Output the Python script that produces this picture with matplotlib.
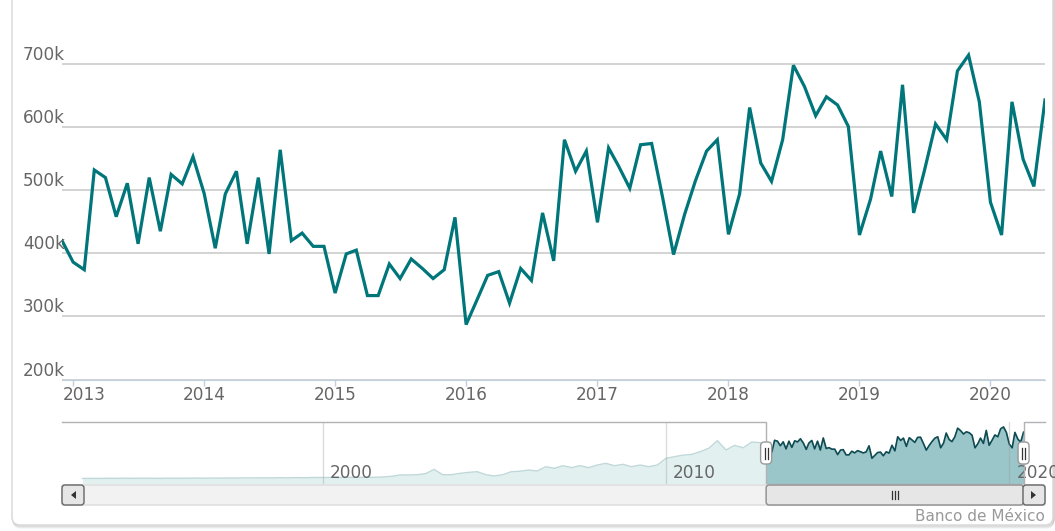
import numpy as np
import pandas as pd
import matplotlib
matplotlib.use("Agg")
import matplotlib.pyplot as plt
import matplotlib.dates as mdates
from matplotlib.patches import FancyBboxPatch
from matplotlib.transforms import IdentityTransform

# valores mensuales (miles), dic 2012 - jun 2020
months = pd.date_range("2012-12-01", "2020-06-01", freq="MS")
values = [
    420,
    386, 374, 532, 520, 458, 511, 415, 520, 435, 525, 510, 553,  # 2013
    495, 408, 494, 530, 415, 520, 399, 564, 420, 432, 411, 411,  # 2014
    337, 399, 405, 333, 333, 383, 360, 391, 376, 360, 374, 457,  # 2015
    287, 327, 365, 371, 321, 376, 357, 464, 388, 580, 530, 562,  # 2016
    449, 567, 538, 503, 572, 574, 490, 398, 462, 515, 562, 580,  # 2017
    430, 494, 631, 543, 514, 580, 698, 664, 618, 648, 635, 601,  # 2018
    429, 486, 562, 490, 667, 464, 531, 605, 580, 689, 714, 640,  # 2019
    481, 429, 640, 549, 506, 643,                                # 2020
]

# historia trimestral para el navegador (miles), 1993 - 2012
hist_dates = pd.date_range("1993-01-01", "2012-10-01", freq="QS")
hist_values = [
    12, 13, 12, 14,
    13, 15, 13, 15,
    14, 13, 15, 14,
    15, 17, 15, 17,
    16, 18, 17, 19,
    18, 20, 19, 22,
    20, 23, 21, 25,
    24, 26, 25, 27,
    26, 28, 27, 32,
    40, 59, 60, 63,
    77, 136, 62, 63,
    81, 95, 104, 63,
    45, 63, 104, 110,
    127, 113, 172, 150,
    186, 159, 186, 159,
    195, 218, 186, 204,
    172, 195, 172, 195,
    286, 309, 330, 340,
    377, 423, 527, 400,
    463, 430, 509, 500,
]

y_ticks = [200, 300, 400, 500, 600, 700]
x_years = list(range(2013, 2021))
nav_years = [2000, 2010, 2020]

W, H = 1055, 531
teal = "#00767a"
txt = "#666666"

fig = plt.figure(figsize=(W / 100, H / 100), dpi=100)
plt.rcParams["font.family"] = ["DejaVu Sans"]


def box(x, y, w, h):
    return [x / W, 1 - (y + h) / H, w / W, h / H]


def pbox(x, y, w, h, r, **kw):
    p = FancyBboxPatch((x, H - y - h), w, h, boxstyle=f"round,pad=0,rounding_size={r}",
                       transform=IdentityTransform(), **kw)
    fig.add_artist(p)
    return p


# marco del grafico con sombra
for i, a in enumerate([0.05, 0.08, 0.12]):
    pbox(12 + 1, -20 + 3 - i, 1041, 545, 8, fc="none", ec="#000000", lw=1, alpha=a, zorder=-3)
pbox(12, -20, 1041, 545, 8, fc="white", ec="#d6d6d6", lw=1, zorder=-2)

# grafico principal
ax = fig.add_axes(box(62, 20, 983, 359.5))
ax.set_facecolor("none")
ax.plot(months, values, color=teal, lw=2.3, solid_joinstyle="miter", zorder=3)
ax.set_xlim(months[0], months[-1])
ax.set_ylim(200, 769.7)
ax.set_yticks(y_ticks)
ax.grid(axis="y", color="#cccccc", lw=1.2)
ax.set_yticklabels([])
ax.tick_params(axis="y", length=0)
for s in ["top", "right", "left"]:
    ax.spines[s].set_visible(False)
ax.spines["bottom"].set_color("#c0d0e0")
ax.spines["bottom"].set_zorder(4)
ticks = [mdates.date2num(pd.Timestamp(f"{y}-01-01")) for y in x_years]
ax.set_xticks(ticks)
ax.set_xticklabels([])
ax.tick_params(axis="x", length=4.5, width=1, color="#c0d0e0", direction="out")
for v in y_ticks:
    ax.annotate(f"{v}k", xy=(0, v), xycoords=ax.get_yaxis_transform(),
                xytext=(3, 4), textcoords="offset pixels", ha="right", va="baseline",
                fontsize=12.2, color=txt)
start = mdates.date2num(months[0])
for i, t in enumerate(ticks):
    ha = "left" if i == 0 else "center"
    xx = start if i == 0 else t
    ax.annotate(str(x_years[i]), xy=(xx, 0), xycoords=ax.get_xaxis_transform(),
                xytext=(1 if i == 0 else 0, -21), textcoords="offset pixels",
                ha=ha, va="baseline", fontsize=12.2, color=txt)

# navegador
nav = fig.add_axes(box(62, 422, 983, 62))
nav.set_facecolor("none")
nav_dates = list(hist_dates) + list(months)
nav_vals = hist_values + values
nav.set_xlim(pd.Timestamp("1992-05-29"), pd.Timestamp("2021-01-15"))
nav.set_ylim(-64, 782)
nav.fill_between(nav_dates, nav_vals, -64, color="#e3f0f0", lw=0, zorder=1)
nav.plot(nav_dates, nav_vals, color="#c0d8d9", lw=1, zorder=2)
nav.fill_between(months, values, -64, color="#9bc6c9", lw=0, zorder=3)
nav.plot(months, values, color="#0f4b53", lw=1.2, zorder=4)
for y in nav_years:
    d = mdates.date2num(pd.Timestamp(f"{y}-01-01"))
    nav.axvline(d, color="#9a9a9a", lw=1, alpha=0.35, zorder=5)
    nav.annotate(str(y), xy=(d, 0), xycoords=nav.get_xaxis_transform(),
                 xytext=(7, 6), textcoords="offset pixels", ha="left", va="baseline",
                 fontsize=12.2, color=txt, zorder=6, annotation_clip=False)
nav.set_xticks([])
nav.set_yticks([])
for s in nav.spines.values():
    s.set_visible(False)
x0, x1 = nav.get_xlim()
s0, s1 = mdates.date2num(months[0]), mdates.date2num(months[-1])
nav.plot([x0, s0, s0, s1, s1, x1], [1, 1, 0, 0, 1, 1], transform=nav.get_xaxis_transform(),
         color="#b2b1b6", lw=1, clip_on=False, zorder=7)

fig.canvas.draw()
px0 = nav.transData.transform((s0, 0))[0]
px1 = nav.transData.transform((s1, 0))[0]

# asas del navegador
for px in [px0, px1]:
    pbox(px - 5.5, 442, 11, 22, 4, fc="white", ec="#999999", lw=1, zorder=10)
    for dx in [-1.5, 1.5]:
        fig.add_artist(plt.Line2D([px + dx, px + dx], [H - 448, H - 459], color="#333333",
                                  lw=0.9, transform=IdentityTransform(), zorder=11))

# barra de desplazamiento
pbox(62, 485, 983, 20, 0, fc="#f2f2f2", ec="#dcdcdc", lw=1, zorder=8)
pbox(px0, 485, px1 - px0, 20, 3, fc="#e6e6e6", ec="#8c8c8c", lw=1, zorder=9)
mid = (px0 + px1) / 2
for dx in [-3, 0, 3]:
    fig.add_artist(plt.Line2D([mid + dx, mid + dx], [H - 491, H - 499], color="#333333",
                              lw=0.9, transform=IdentityTransform(), zorder=10))
for bx, tri in [(62, [(76, 491), (76, 499), (71, 495)]), (1023, [(1031, 491), (1031, 499), (1036, 495)])]:
    pbox(bx, 485, 22, 20, 3, fc="#e6e6e6", ec="#666666", lw=1, zorder=10)
    fig.add_artist(plt.Polygon([(a, H - b) for a, b in tri], closed=True, fc="#333333", ec="none",
                               transform=IdentityTransform(), zorder=11))

fig.text(1045 / W, 1 - 521 / H, "Banco de México", ha="right", va="baseline",
         fontsize=11, color="#999999")

fig.savefig("out.png", dpi=100)
